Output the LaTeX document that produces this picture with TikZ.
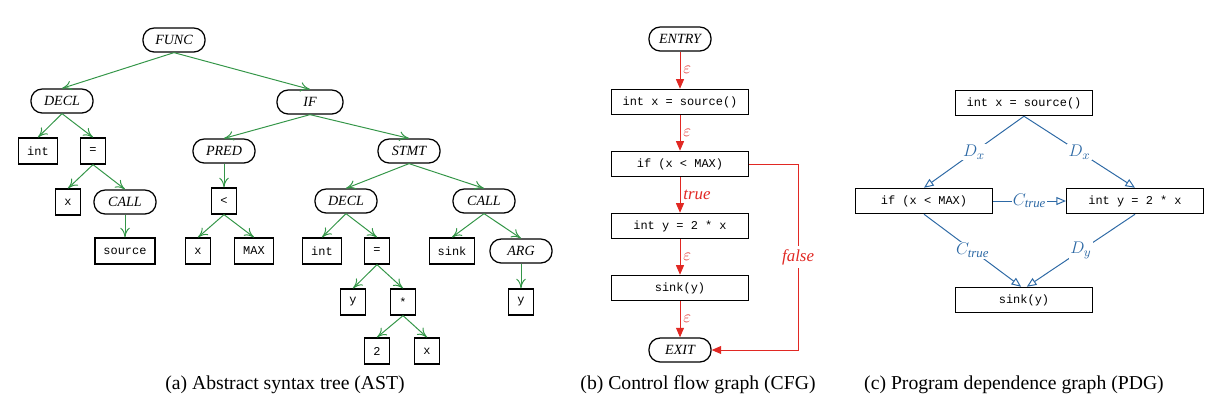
\documentclass[tikz,border=0pt]{standalone}
\usepackage{fontspec}
\setmainfont{Liberation Serif}
\setmonofont{Liberation Mono}
\usetikzlibrary{arrows.meta}
\definecolor{TreeGreen}{RGB}{52,150,72}
\definecolor{FlowRed}{RGB}{225,40,35}
\definecolor{DepBlue}{RGB}{45,105,165}
\tikzset{
  kw/.style={draw=black,line width=.9pt,rounded corners=8pt,fill=white,font=\fontsize{10}{12}\selectfont\itshape,minimum width=1.55cm,minimum height=.6cm,inner sep=1pt},
  tok/.style={draw=black,line width=.9pt,fill=white,font=\fontsize{8.5}{10}\selectfont\ttfamily,minimum width=.62cm,minimum height=.65cm,inner xsep=6pt},
  stmt/.style={tok,minimum width=3.42cm,minimum height=.63cm},
  astedge/.style={-{To[length=2.4mm,width=2.4mm]},draw=TreeGreen,line width=.7pt},
  cfgedge/.style={-{Triangle[length=2.4mm,width=2mm]},draw=FlowRed,line width=.7pt},
  pdgedge/.style={-{Triangle[open,length=2.4mm,width=2mm]},draw=DepBlue,line width=.7pt},
  cfglab/.style={font=\fontsize{12}{14}\selectfont\itshape,text=FlowRed,inner sep=2pt},
  pdglab/.style={font=\fontsize{13}{15}\selectfont,text=DepBlue,fill=white,inner sep=1pt},
  caption/.style={font=\fontsize{14}{16}\selectfont}
}
\begin{document}
\begin{tikzpicture}[x=.025cm,y=-.025cm]
  \useasboundingbox (0,0) rectangle (1225,410);
  \node[kw] (func) at (174,40) {FUNC};
  \node[kw] (decl) at (62,101) {DECL};
  \node[kw,minimum width=1.65cm] (if) at (310,102) {IF};
  \node[tok] (int) at (38,151) {int};
  \node[tok] (eq) at (93,151) {=};
  \node[tok] (xa) at (68,202) {x};
  \node[kw] (call) at (125,202) {CALL};
  \node[tok] (src) at (125,251) {source};
  \node[kw] (pred) at (224,151) {PRED};
  \node[kw] (stmt) at (409,151) {STMT};
  \node[tok] (lt) at (224,201) {<};
  \node[tok] (xb) at (198,251) {x};
  \node[tok] (max) at (254,251) {MAX};
  \node[kw] (declb) at (346,201) {DECL};
  \node[kw] (callb) at (484,201) {CALL};
  \node[tok] (intb) at (322,251) {int};
  \node[tok] (eqb) at (377,251) {=};
  \node[tok] (sink) at (452,251) {sink};
  \node[kw] (arg) at (521,251) {ARG};
  \node[tok] (ya) at (353,302) {y};
  \node[tok] (mul) at (403,302) {*};
  \node[tok] (yb) at (521,302) {y};
  \node[tok] (two) at (377,351) {2};
  \node[tok] (xc) at (427,351) {x};
  \foreach \p/\c in {func/decl,func/if,decl/int,decl/eq,eq/xa,eq/call,call/src,if/pred,if/stmt,pred/lt,lt/xb,lt/max,stmt/declb,stmt/callb,declb/intb,declb/eqb,eqb/ya,eqb/mul,mul/two,mul/xc,callb/sink,callb/arg,arg/yb}
    \draw[astedge] (\p.south) -- (\c.north);
  \node[caption] (capa) at (285,385) {(a) Abstract syntax tree (AST)};

  \node[kw] (entry) at (680,39) {ENTRY};
  \node[stmt] (cx) at (680,102) {int x = source()};
  \node[stmt] (cif) at (680,164) {if (x < MAX)};
  \node[stmt] (cy) at (680,226) {int y = 2 * x};
  \node[stmt] (csink) at (680,288) {sink(y)};
  \node[kw] (exit) at (680,350) {EXIT};
  \draw[cfgedge] (entry.south) -- node[cfglab,right]{$\varepsilon$} (cx.north);
  \draw[cfgedge] (cx.south) -- node[cfglab,right]{$\varepsilon$} (cif.north);
  \draw[cfgedge] (cif.south) -- node[cfglab,right]{true} (cy.north);
  \draw[cfgedge] (cy.south) -- node[cfglab,right]{$\varepsilon$} (csink.north);
  \draw[cfgedge] (csink.south) -- node[cfglab,right]{$\varepsilon$} (exit.north);
  \draw[cfgedge] (cif.east) -- ++(49,0) |- node[cfglab,fill=white,pos=.25]{false} (exit.east);
  \node[caption] (capb) at (698,385) {(b) Control flow graph (CFG)};

  \node[stmt] (px) at (1024,103) {int x = source()};
  \node[stmt] (pif) at (924,201) {if (x < MAX)};
  \node[stmt] (py) at (1135,201) {int y = 2 * x};
  \node[stmt] (psink) at (1024,300) {sink(y)};
  \draw[pdgedge] (px.south) -- node[pdglab]{$D_x$} (pif.north);
  \draw[pdgedge] (px.south) -- node[pdglab]{$D_x$} (py.north);
  \draw[pdgedge] (pif.east) -- node[pdglab]{$C_{\mathit{true}}$} (py.west);
  \draw[pdgedge] (pif.south) -- node[pdglab]{$C_{\mathit{true}}$} ([xshift=-2pt]psink.north);
  \draw[pdgedge] (py.south) -- node[pdglab]{$D_y$} ([xshift=2pt]psink.north);
  \node[caption] (capc) at (1014,385) {(c) Program dependence graph (PDG)};
\end{tikzpicture}
\end{document}
